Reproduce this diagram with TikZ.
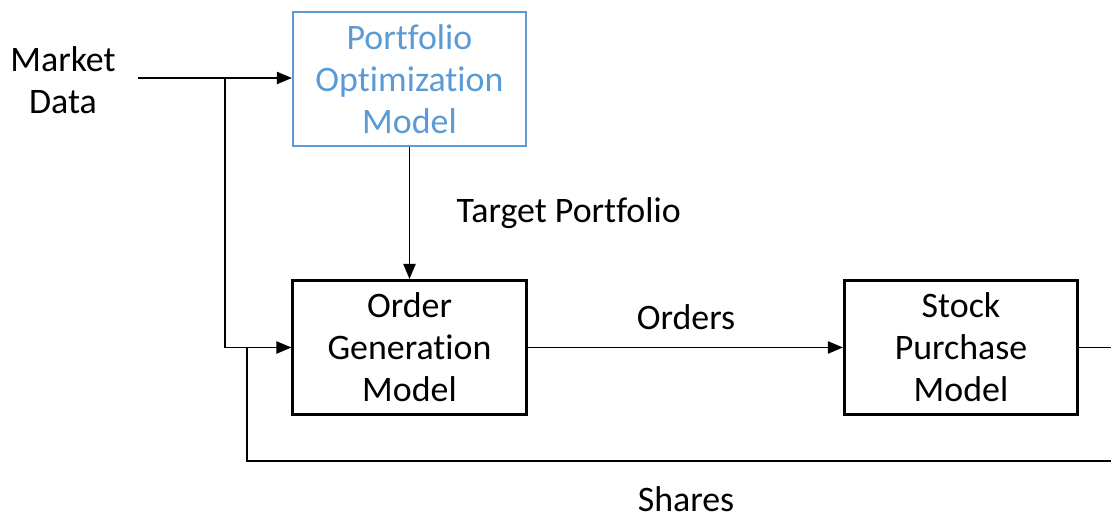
\documentclass[tikz,border=0pt]{standalone}
\usepackage{fontspec}
\setmainfont[Ligatures=NoCommon]{Carlito}
\usetikzlibrary{arrows.meta}
\definecolor{modelblue}{RGB}{91,155,213}
\begin{document}
\begin{tikzpicture}[x=0.01cm,y=-0.01cm,
  txt/.style={font=\fontsize{10.2pt}{11.95pt}\selectfont, align=center, inner sep=0pt},
  modelbox/.style={draw, line width=0.85pt, minimum width=2.33cm, minimum height=1.34cm, txt},
  flow/.style={line width=0.45pt},
  tip/.style={-{Triangle[length=4.3pt,width=3.5pt]}}]
  \useasboundingbox (0,0) rectangle (1111,516);
  % models
  \node[modelbox, draw=modelblue, text=modelblue, line width=0.6pt] (opt) at (409.5,79)
    {Portfolio\\Optimization\\Model};
  \node[modelbox] (ord) at (409.5,347.5) {Order\\Generation\\Model};
  \node[modelbox] (buy) at (961,347.5) {Stock\\Purchase\\Model};
  % labels
  \node[txt] (mkt) at (63,80) {Market\\Data};
  \node[txt, anchor=west] (tgt) at (456,213) {Target Portfolio};
  \node[txt] (olab) at (686,317) {Orders};
  \node[txt] (slab) at (686,499) {Shares};
  % junction and free ends
  \coordinate (src) at (138,78);
  \coordinate (split) at (225,78);
  \coordinate (fb) at (247,348);
  \coordinate (edge) at (1111,461);
  % connectors
  \draw[flow, tip] (src) -- (opt.west |- src);
  \draw[flow, tip] (split) |- (ord.west);
  \draw[flow, tip] (opt.south) -- (ord.north);
  \draw[flow, tip] (ord.east) -- (buy.west);
  \draw[flow] (buy.east) -- (buy.east -| edge);
  \draw[flow] (edge) -| (fb);
\end{tikzpicture}
\end{document}
